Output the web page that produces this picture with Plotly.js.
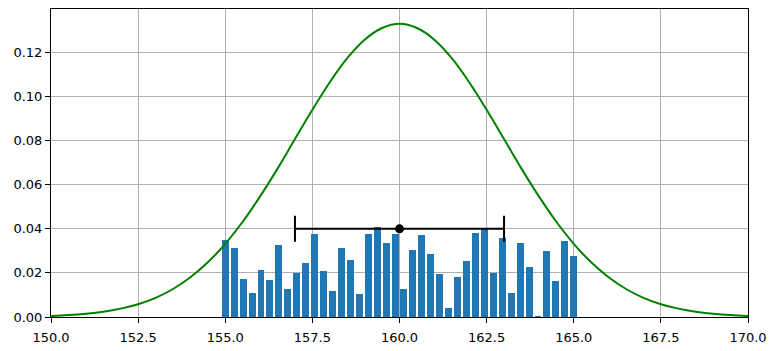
<!DOCTYPE html>
<html>
<head>
<meta charset="utf-8">
<script src="https://cdn.plot.ly/plotly-3.0.1.min.js"></script>
<style>html,body{margin:0;padding:0;background:#fff;}#chart{width:777px;height:351px;}</style>
</head>
<body>
<div id="chart"></div>
<script>
// Bar positions and heights
const barX = [155.000,155.256,155.513,155.769,156.026,156.282,156.538,156.795,157.051,157.308,
              157.564,157.821,158.077,158.333,158.590,158.846,159.103,159.359,159.615,159.872,
              160.128,160.385,160.641,160.897,161.154,161.410,161.667,161.923,162.179,162.436,
              162.692,162.949,163.205,163.462,163.718,163.974,164.231,164.487,164.744,165.000];
const barY = [0.0350,0.0314,0.0173,0.0109,0.0214,0.0168,0.0328,0.0127,0.0200,0.0243,
              0.0378,0.0209,0.0118,0.0314,0.0259,0.0105,0.0378,0.0410,0.0337,0.0378,
              0.0127,0.0305,0.0373,0.0287,0.0197,0.0041,0.0182,0.0255,0.0382,0.0400,
              0.0200,0.0359,0.0109,0.0337,0.0228,0.0005,0.0300,0.0164,0.0346,0.0278];

// Green curve samples
const curveX = [150,150.5,151,151.5,152,152.5,153,153.5,154,154.5,155,155.5,156,156.5,157,157.5,
                158,158.5,159,159.5,160,160.5,161,161.5,162,162.5,163,163.5,164,164.5,165,165.5,
                166,166.5,167,167.5,168,168.5,169,169.5,170];
const curveY = [0.0005,0.0009,0.0015,0.0024,0.0038,0.0058,0.0087,0.0127,0.0180,0.0248,0.0332,0.0432,
                0.0547,0.0673,0.0807,0.0940,0.1065,0.1174,0.1258,0.1311,0.1330,0.1311,0.1258,0.1174,
                0.1065,0.0940,0.0807,0.0673,0.0547,0.0432,0.0332,0.0248,0.0180,0.0127,0.0087,0.0058,
                0.0038,0.0024,0.0015,0.0009,0.0005];

// Mean point with horizontal error bar
const meanX = [160];
const meanY = [0.04];
const meanErr = [3];

const xTicks = [150,152.5,155,157.5,160,162.5,165,167.5,170];
const xTickText = ['150.0','152.5','155.0','157.5','160.0','162.5','165.0','167.5','170.0'];
const yTicks = [0,0.02,0.04,0.06,0.08,0.10,0.12];
const yTickText = ['0.00','0.02','0.04','0.06','0.08','0.10','0.12'];

const traces = [
  {type:'bar', x:barX, y:barY, width:0.2, marker:{color:'#1f77b4', line:{width:0}}, hoverinfo:'x+y'},
  {type:'scatter', mode:'lines', x:curveX, y:curveY, line:{color:'#008000', width:2, shape:'spline'}},
  {type:'scatter', mode:'markers', x:meanX, y:meanY,
   marker:{color:'#000000', size:9},
   error_x:{type:'data', array:meanErr, visible:true, color:'#000000', thickness:2, width:13}}
];

const axisCommon = {
  showline:true, mirror:true, linecolor:'#000', linewidth:1,
  ticks:'outside', ticklen:5, tickwidth:1, tickcolor:'#000',
  showgrid:true, gridcolor:'#b0b0b0', gridwidth:1, zeroline:false,
  tickfont:{family:'DejaVu Sans', size:13, color:'#000'}
};

const layout = {
  width:777, height:351,
  margin:{l:51, r:29, t:9, b:34, pad:0},
  paper_bgcolor:'#fff', plot_bgcolor:'#fff',
  showlegend:false,
  bargap:0,
  xaxis:Object.assign({}, axisCommon, {range:[150,170], tickmode:'array', tickvals:xTicks, ticktext:xTickText, ticklabelstandoff:3}),
  yaxis:Object.assign({}, axisCommon, {range:[0,0.1397], tickmode:'array', tickvals:yTicks, ticktext:yTickText})
};

Plotly.newPlot('chart', traces, layout, {displayModeBar:false, staticPlot:true});
</script>
</body>
</html>
